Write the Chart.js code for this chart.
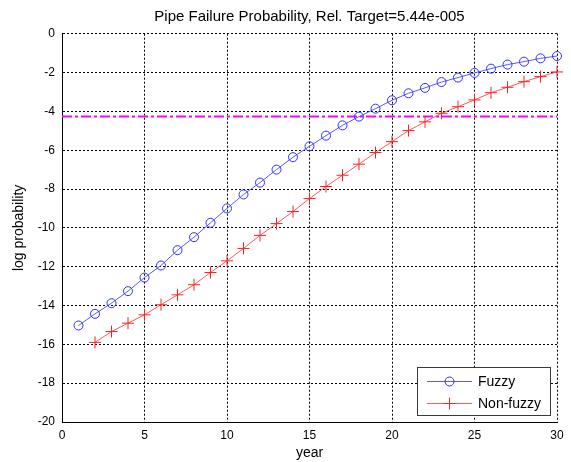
<!DOCTYPE html>
<html>
<head>
<meta charset="utf-8">
<title>Pipe Failure Probability</title>
<script src="https://cdn.jsdelivr.net/npm/chart.js@4.4.1/dist/chart.umd.min.js"></script>
<style>
    html, body { margin: 0; padding: 0; background: #fff; }
    #wrap { width: 571px; height: 462px; }
</style>
</head>
<body>
<div id="wrap"><canvas id="failureChart" width="571" height="462"></canvas></div>
<script>
// Data
const fuzzyYears = [1, 2, 3, 4, 5, 6, 7, 8, 9, 10, 11, 12, 13, 14, 15, 16, 17, 18, 19, 20, 21, 22, 23, 24, 25, 26, 27, 28, 29, 30];
const fuzzyLogProb = [-15.03, -14.43, -13.88, -13.26, -12.56, -11.94, -11.15, -10.48, -9.74, -9.00,
    -8.28, -7.67, -7.00, -6.36, -5.80, -5.25, -4.72, -4.27, -3.86, -3.43,
    -3.07, -2.79, -2.49, -2.26, -2.02, -1.80, -1.59, -1.44, -1.27, -1.15];

const nonFuzzyYears = [2, 3, 4, 5, 6, 7, 8, 9, 10, 11, 12, 13, 14, 15, 16, 17, 18, 19, 20, 21, 22, 23, 24, 25, 26, 27, 28, 29, 30];
const nonFuzzyLogProb = [-15.90, -15.34, -14.91, -14.48, -13.96, -13.45, -12.93, -12.30, -11.70,
    -11.06, -10.39, -9.78, -9.16, -8.49, -7.87, -7.29, -6.72, -6.12, -5.56,
    -4.99, -4.54, -4.10, -3.76, -3.41, -3.04, -2.76, -2.47, -2.21, -1.97];

const targetProb = 5.44e-5;
const targetYears = [0, 30];

const xTicks = [0, 5, 10, 15, 20, 25, 30];
const yTicks = [-20, -18, -16, -14, -12, -10, -8, -6, -4, -2, 0];

const FONT = "'Liberation Sans', Arial, Helvetica, sans-serif";

// line / marker colours (MATLAB 'b-o' and 'r-+')
const BLUE_LINE = '#5a5aff';
const BLUE_MARK = '#3030ff';
const RED_LINE = '#ff5a5a';
const RED_MARK = '#ff2020';

function toPoints(xs, ys) {
    return xs.map((x, i) => ({ x: x, y: ys[i] }));
}

/**
 * Legend box in the lower right corner, MATLAB style (line + marker sample)
 */
const boxLegend = {
    id: 'boxLegend',
    afterDatasetsDraw(chart) {
        const ctx = chart.ctx;
        const items = [
            { label: chart.data.datasets[0].label, line: BLUE_LINE, mark: BLUE_MARK, style: 'circle' },
            { label: chart.data.datasets[1].label, line: RED_LINE, mark: RED_MARK, style: 'cross' }
        ];
        const left = 417, top = 367, w = 133, h = 48;
        ctx.save();
        ctx.setLineDash([]);
        ctx.fillStyle = '#fff';
        ctx.fillRect(left, top, w, h);
        ctx.strokeStyle = '#3a3a3a';
        ctx.lineWidth = 1;
        ctx.strokeRect(left + 0.5, top + 0.5, w, h);

        items.forEach((it, i) => {
            const y = 381 + i * 22;
            const cx = 449.5;
            // line sample
            ctx.fillStyle = it.line;
            ctx.fillRect(427, y, 45, 1);
            // marker sample
            ctx.strokeStyle = it.mark;
            ctx.lineWidth = 1;
            ctx.beginPath();
            if (it.style === 'circle') {
                ctx.arc(cx, y + 0.5, 4.5, 0, Math.PI * 2);
            } else {
                ctx.moveTo(cx - 6, y + 0.5);
                ctx.lineTo(cx + 6, y + 0.5);
                ctx.moveTo(cx, y - 5.5);
                ctx.lineTo(cx, y + 6.5);
            }
            ctx.stroke();
            ctx.fillStyle = '#000';
            ctx.font = '14px ' + FONT;
            ctx.textBaseline = 'middle';
            ctx.textAlign = 'left';
            ctx.fillText(it.label, 478, y + 1);
        });
        ctx.restore();
    }
};

Chart.defaults.color = '#000';
Chart.defaults.font.family = FONT;
Chart.defaults.font.size = 12;

new Chart(document.getElementById('failureChart').getContext('2d'), {
    type: 'line',
    data: {
        datasets: [{
            label: 'Fuzzy',
            data: toPoints(fuzzyYears, fuzzyLogProb),
            borderColor: BLUE_LINE,
            backgroundColor: 'transparent',
            borderWidth: 1,
            pointStyle: 'circle',
            pointRadius: 4.5,
            pointBorderWidth: 1,
            pointBackgroundColor: 'transparent',
            pointBorderColor: BLUE_MARK,
            tension: 0,
            clip: false
        }, {
            label: 'Non-fuzzy',
            data: toPoints(nonFuzzyYears, nonFuzzyLogProb),
            borderColor: RED_LINE,
            backgroundColor: 'transparent',
            borderWidth: 1,
            pointStyle: 'cross',
            pointRadius: 6,
            pointBorderWidth: 1,
            pointBorderColor: RED_MARK,
            tension: 0,
            clip: false
        }, {
            label: 'Target',
            data: toPoints(targetYears, targetYears.map(() => Math.log10(targetProb))),
            borderColor: '#ff00ff',
            borderWidth: 2,
            borderDash: [10, 3, 3, 3],
            pointRadius: 0,
            tension: 0
        }]
    },
    options: {
        responsive: false,
        animation: false,
        events: [],
        layout: {
            padding: { left: 0, right: 14, top: 0, bottom: 0 }
        },
        plugins: {
            legend: { display: false },
            tooltip: { enabled: false },
            title: {
                display: true,
                fullSize: false,
                text: 'Pipe Failure Probability, Rel. Target=5.44e-005',
                color: '#000',
                font: { size: 15, weight: 'normal', family: FONT },
                padding: { top: 7.5, bottom: 8.2 }
            }
        },
        scales: {
            x: {
                type: 'linear',
                min: 0,
                max: 30,
                afterBuildTicks: scale => { scale.ticks = xTicks.map(v => ({ value: v })); },
                afterFit: scale => { scale.height = 40; },
                ticks: { padding: 6, font: { size: 12 }, color: '#000' },
                grid: { color: '#000', lineWidth: 1, drawTicks: false },
                border: { display: true, color: '#000', width: 1, dash: [2, 2] },
                title: {
                    display: true,
                    text: 'year',
                    font: { size: 14 },
                    padding: { top: 0, bottom: 0 }
                }
            },
            y: {
                type: 'linear',
                min: -20,
                max: 0,
                afterBuildTicks: scale => { scale.ticks = yTicks.map(v => ({ value: v })); },
                afterFit: scale => { scale.width = 62; },
                ticks: { padding: 7, font: { size: 12 }, color: '#000' },
                grid: { color: '#000', lineWidth: 1, drawTicks: false },
                border: { display: true, color: '#000', width: 1, dash: [2, 2] },
                title: {
                    display: true,
                    text: 'log probability',
                    font: { size: 14 },
                    padding: { top: 11, bottom: 0 }
                }
            }
        }
    },
    plugins: [boxLegend]
});
</script>
</body>
</html>
